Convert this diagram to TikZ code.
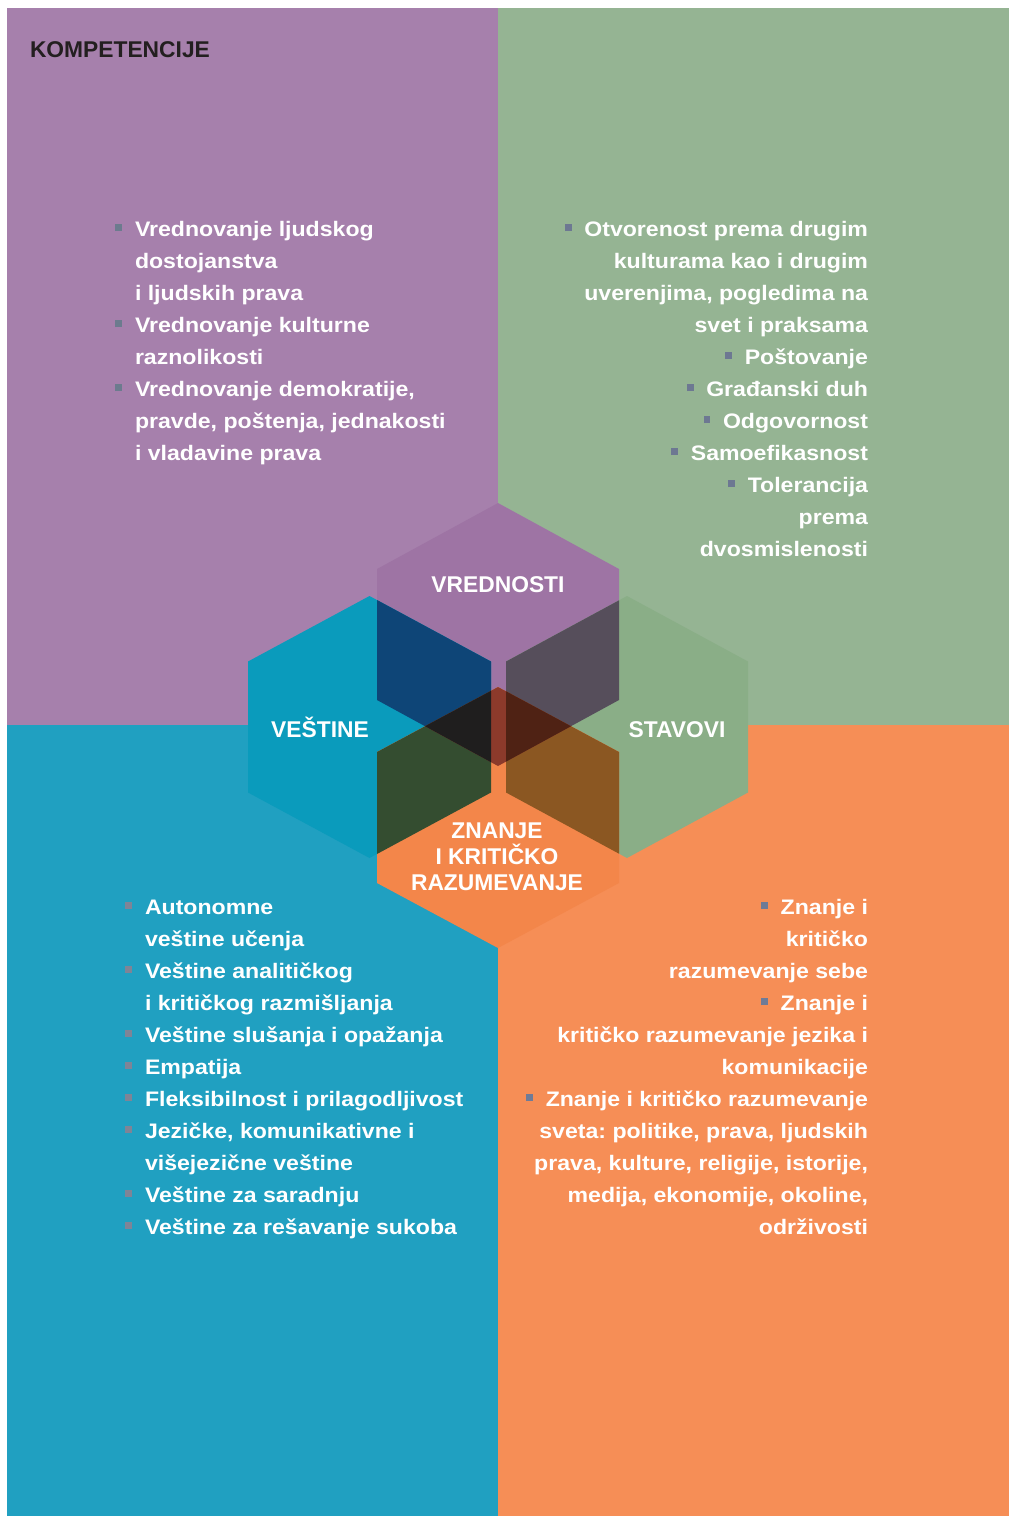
\documentclass[tikz,border=0pt]{standalone}
\usepackage{fontspec}
\setmainfont{Liberation Sans}
\newfontfamily\bodyfont{Liberation Sans}[FakeStretch=1.1]
\definecolor{bgP}{HTML}{A680AC}
\definecolor{bgG}{HTML}{95B493}
\definecolor{bgB}{HTML}{20A0C1}
\definecolor{bgO}{HTML}{F68E56}
\definecolor{hexT}{HTML}{9E74A4}
\definecolor{hexL}{HTML}{0A9BBC}
\definecolor{hexR}{HTML}{8AAE87}
\definecolor{hexB}{HTML}{F3864A}
\definecolor{ovTL}{HTML}{0E4577}
\definecolor{ovTR}{HTML}{564E5B}
\definecolor{ovLB}{HTML}{344D30}
\definecolor{ovRB}{HTML}{8B5722}
\definecolor{ovTB}{HTML}{8C3A2B}
\definecolor{ovTLB}{HTML}{1F1E1E}
\definecolor{ovTRB}{HTML}{4F2214}
\definecolor{titlec}{HTML}{231F20}
\definecolor{bulUL}{HTML}{6C7B8E}
\definecolor{bulUR}{HTML}{6D7892}
\definecolor{bulLL}{HTML}{7F8496}
\definecolor{bulLR}{HTML}{6F7B97}
\newcommand\lbul[1]{\llap{\textcolor{#1}{\rule[2.7pt]{3.4pt}{3.4pt}}\hspace{6.6pt}}}
\newcommand\rbul[1]{\textcolor{#1}{\rule[2.7pt]{3.4pt}{3.4pt}}\hspace{6.3pt}}
\frenchspacing
\begin{document}
\begin{tikzpicture}[x=0.5pt,y=-0.5pt,
  body/.style={font=\bodyfont\bfseries\fontsize{10.5}{12}\selectfont, text=white, inner sep=0pt, outer sep=0pt},
  hexlabel/.style={font=\bfseries\fontsize{11.4}{13}\selectfont, text=white, inner sep=0pt, outer sep=0pt, anchor=base},
  titlestyle/.style={font=\bfseries\fontsize{11.4}{13}\selectfont, text=titlec, inner sep=0pt, outer sep=0pt, anchor=base west}]
\useasboundingbox (0,0) rectangle (1009,1516);
\fill[white] (0,0) rectangle (1009,1516);
% quadrants
\fill[bgP] (7,8) rectangle (498,725);
\fill[bgG] (498,8) rectangle (1009,725);
\fill[bgB] (7,725) rectangle (498,1516);
\fill[bgO] (498,725) rectangle (1009,1516);
% hexagons
\fill[hexT] (498,503) -- (619,569) -- (619,700) -- (498,766) -- (377,700) -- (377,569) -- cycle;
\fill[hexL] (369.5,596) -- (491,661.5) -- (491,792.5) -- (369.5,858) -- (248,792.5) -- (248,661.5) -- cycle;
\fill[hexR] (627,596) -- (748,661.5) -- (748,792.5) -- (627,858) -- (506,792.5) -- (506,661.5) -- cycle;
\fill[hexB] (498,687) -- (619,752) -- (619,883) -- (498,948) -- (377,883) -- (377,752) -- cycle;
% overlaps
\fill[ovTL] (377,600) -- (491,661.5) -- (491,762.2) -- (377,700) -- cycle;
\fill[ovTR] (619,600.3) -- (506,661.5) -- (506,761.6) -- (619,700) -- cycle;
\fill[ovLB] (377,752) -- (491,690.8) -- (491,792.5) -- (377,854) -- cycle;
\fill[ovRB] (619,752) -- (506,691.3) -- (506,792.5) -- (619,853.7) -- cycle;
\fill[ovTB] (425,726.2) -- (498,687) -- (571,726.2) -- (498,766) -- cycle;
\fill[ovTLB] (425,726.2) -- (491,690.8) -- (491,762.2) -- cycle;
\fill[ovTRB] (571,726.2) -- (506,691.3) -- (506,761.6) -- cycle;
% title
\node[titlestyle] (title) at (30,57) {KOMPETENCIJE};
% hexagon labels
\node[hexlabel] (lv) at (498,592) {VREDNOSTI};
\node[hexlabel] (ls) at (320,737) {VEŠTINE};
\node[hexlabel] (lt) at (677,737) {STAVOVI};
\node[hexlabel] (lz1) at (497,838) {ZNANJE};
\node[hexlabel] (lz2) at (497,864) {I KRITIČKO};
\node[hexlabel] (lz3) at (497,890) {RAZUMEVANJE};
% upper left
\foreach \t [count=\i] in {
  {\lbul{bulUL}Vrednovanje ljudskog},
  dostojanstva,
  i ljudskih prava,
  {\lbul{bulUL}Vrednovanje kulturne},
  raznolikosti,
  {\lbul{bulUL}Vrednovanje demokratije,},
  {pravde, poštenja, jednakosti},
  i vladavine prava}
  \node[body, anchor=base west, name=ul\i] at (135,{204.5+32*\i}) {\t};
% upper right
\foreach \t [count=\i] in {
  {\rbul{bulUR}Otvorenost prema drugim},
  kulturama kao i drugim,
  {uverenjima, pogledima na},
  svet i praksama,
  {\rbul{bulUR}Poštovanje},
  {\rbul{bulUR}Građanski duh},
  {\rbul{bulUR}Odgovornost},
  {\rbul{bulUR}Samoefikasnost},
  {\rbul{bulUR}Tolerancija},
  prema,
  dvosmislenosti}
  \node[body, anchor=base east, name=ur\i] at (868,{204.5+32*\i}) {\t};
% lower left
\foreach \t [count=\i] in {
  {\lbul{bulLL}Autonomne},
  veštine učenja,
  {\lbul{bulLL}Veštine analitičkog},
  i kritičkog razmišljanja,
  {\lbul{bulLL}Veštine slušanja i opažanja},
  {\lbul{bulLL}Empatija},
  {\lbul{bulLL}Fleksibilnost i prilagodljivost},
  {\lbul{bulLL}Jezičke, komunikativne i},
  višejezične veštine,
  {\lbul{bulLL}Veštine za saradnju},
  {\lbul{bulLL}Veštine za rešavanje sukoba}}
  \node[body, anchor=base west, name=ll\i] at (145,{882.5+32*\i}) {\t};
% lower right
\foreach \t [count=\i] in {
  {\rbul{bulLR}Znanje i},
  kritičko,
  razumevanje sebe,
  {\rbul{bulLR}Znanje i},
  kritičko razumevanje jezika i,
  komunikacije,
  {\rbul{bulLR}Znanje i kritičko razumevanje},
  {sveta: politike, prava, ljudskih},
  {prava, kulture, religije, istorije,},
  {medija, ekonomije, okoline,},
  održivosti}
  \node[body, anchor=base east, name=lr\i] at (868,{882.5+32*\i}) {\t};
\end{tikzpicture}
\end{document}
